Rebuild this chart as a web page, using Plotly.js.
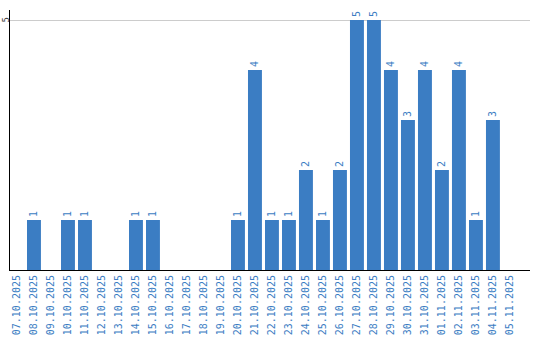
<!DOCTYPE html>
<html><head><meta charset="utf-8">
<script src="https://cdn.plot.ly/plotly-3.0.1.min.js"></script>
<style>html,body{margin:0;padding:0;background:#fff}#chart{width:540px;height:340px}</style>
</head><body><div id="chart"></div>
<script>
const dates = ["07.10.2025","08.10.2025","09.10.2025","10.10.2025","11.10.2025","12.10.2025","13.10.2025","14.10.2025","15.10.2025","16.10.2025","17.10.2025","18.10.2025","19.10.2025","20.10.2025","21.10.2025","22.10.2025","23.10.2025","24.10.2025","25.10.2025","26.10.2025","27.10.2025","28.10.2025","29.10.2025","30.10.2025","31.10.2025","01.11.2025","02.11.2025","03.11.2025","04.11.2025","05.11.2025"];
const counts = [0,1,0,1,1,0,0,1,1,0,0,0,0,1,4,1,1,2,1,2,5,5,4,3,4,2,4,1,3,0];
const yTicks = [5];
const labels = counts.map(v => v > 0 ? String(v) : "");
const blue = "#3b7dc3";
Plotly.newPlot("chart", [{
  type: "bar", x: dates, y: counts, text: labels,
  textposition: "outside", textangle: -90, cliponaxis: false,
  textfont: {family: "DejaVu Sans Mono", size: 10, color: blue},
  marker: {color: blue}, hoverinfo: "none"
}], {
  width: 540, height: 340,
  margin: {l: 10, r: 10, t: 10, b: 70, pad: 0},
  paper_bgcolor: "#fff", plot_bgcolor: "#fff",
  bargap: 0.18, showlegend: false,
  xaxis: {type: "category", range: [-0.41, 30.18], tickangle: -90,
    tickfont: {family: "DejaVu Sans Mono", size: 10, color: blue},
    showline: true, linecolor: "#000", linewidth: 1, showgrid: false, ticks: "", automargin: false},
  yaxis: {range: [0, 5.2], tickvals: yTicks, showticklabels: false,
    showline: true, linecolor: "#000", linewidth: 1, gridcolor: "#ccc",
    zeroline: false, ticks: "", automargin: false},
  annotations: yTicks.map(v => ({
    xref: "paper", yref: "y", x: 0, y: v, text: String(v), showarrow: false,
    textangle: -90, xanchor: "center", yanchor: "middle", xshift: -4.5,
    borderpad: 0, borderwidth: 0,
    font: {family: "DejaVu Sans Mono", size: 9, color: "#333"}
  }))
}, {staticPlot: true});
</script></body></html>
